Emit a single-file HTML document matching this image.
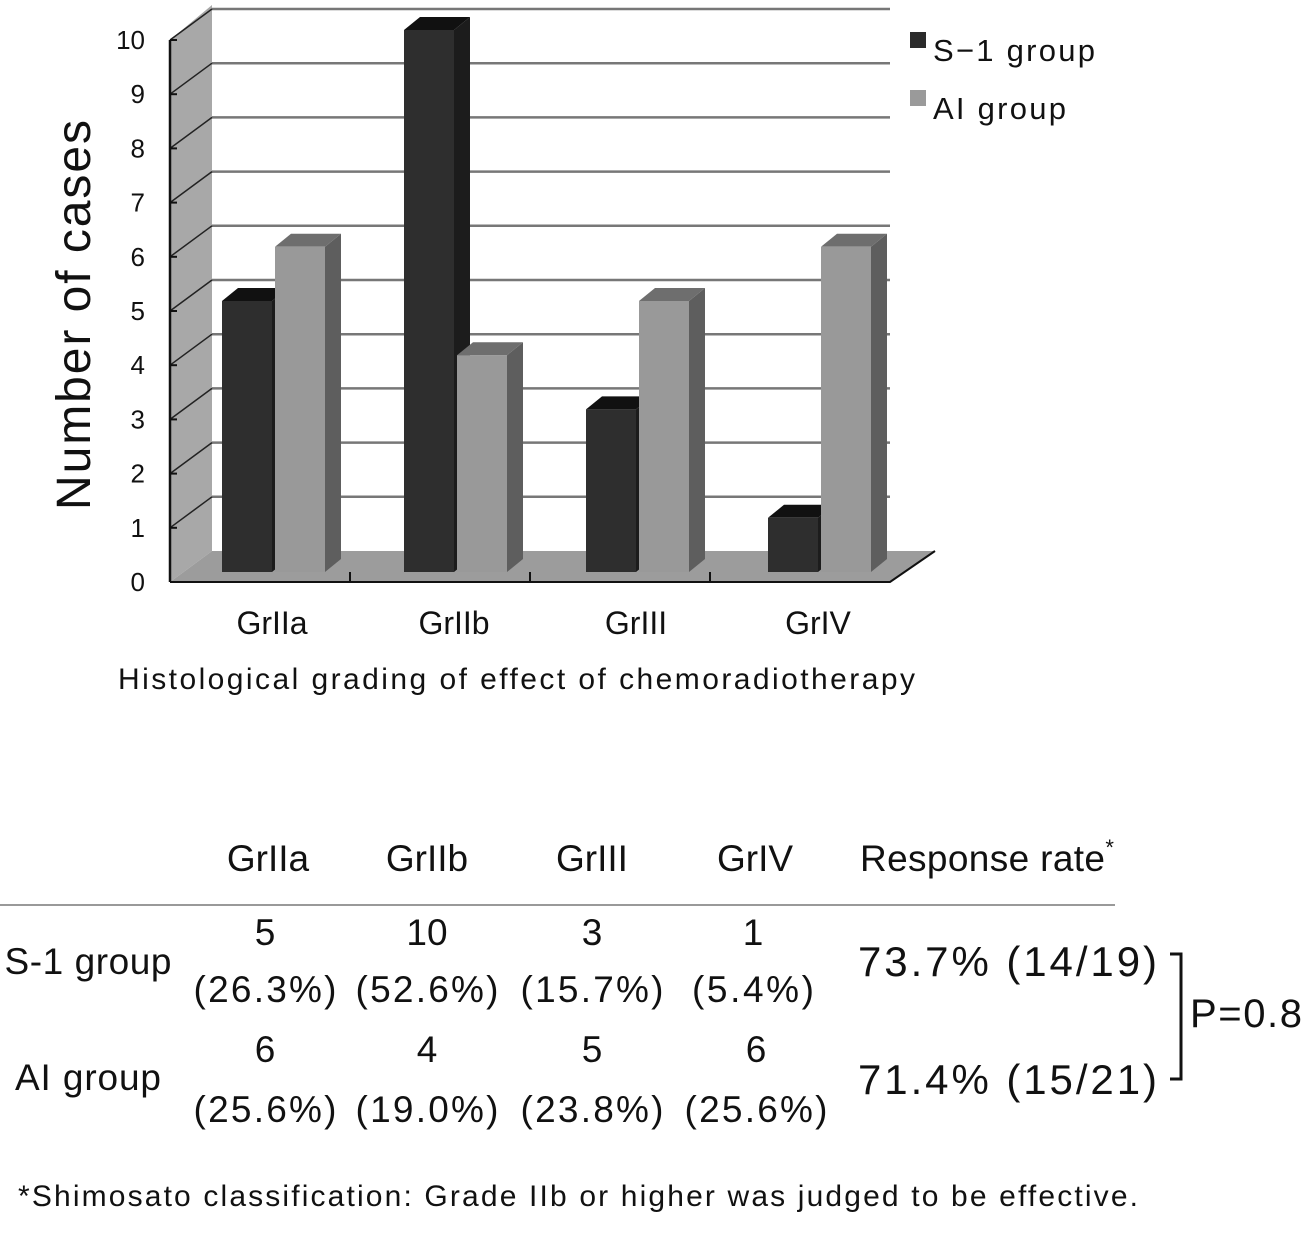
<!DOCTYPE html>
<html><head><meta charset="utf-8"><style>
html,body{margin:0;padding:0;background:#fff;}
svg{display:block;font-family:"Liberation Sans",sans-serif;}
</style></head><body>
<svg id="chart" width="1311" height="1240" viewBox="0 0 1311 1240" xmlns="http://www.w3.org/2000/svg">
<g id="plot"></g>
<text transform="translate(90,315) rotate(-90)" text-anchor="middle" font-size="48" fill="#111" textLength="390">Number of cases</text>
<text x="118" y="689" font-size="30" fill="#111" textLength="797">Histological grading of effect of chemoradiotherapy</text>
<g>
<rect x="910" y="32" width="16" height="16" fill="#2b2b2b"/>
<text x="933" y="61" font-size="31" fill="#111" textLength="162">S−1 group</text>
<rect x="910" y="90" width="16" height="16" fill="#9a9a9a"/>
<text x="933" y="119" font-size="31" fill="#111" textLength="133">AI group</text>
</g>
<g font-size="37" fill="#111" text-anchor="middle">
<text x="268" y="871">GrIIa</text>
<text x="427" y="871">GrIIb</text>
<text x="592" y="871">GrIII</text>
<text x="755" y="871">GrIV</text>
<text x="860" y="871" text-anchor="start"><tspan textLength="245">Response rate</tspan><tspan font-size="22" dy="-16">*</tspan></text>
<line x1="0" y1="905" x2="1115" y2="905" stroke="#999" stroke-width="2"/>
<text x="88" y="974" textLength="167">S-1 group</text>
<text x="88" y="1090" textLength="146">AI group</text>
<g>
<text x="265" y="945">5</text><text x="265" y="1002" textLength="143">(26.3%)</text>
<text x="427" y="945">10</text><text x="427" y="1002" textLength="143">(52.6%)</text>
<text x="592" y="945">3</text><text x="592" y="1002" textLength="143">(15.7%)</text>
<text x="753" y="945">1</text><text x="753" y="1002" textLength="122">(5.4%)</text>
</g>
<g>
<text x="265" y="1062">6</text><text x="265" y="1122" textLength="143">(25.6%)</text>
<text x="427" y="1062">4</text><text x="427" y="1122" textLength="143">(19.0%)</text>
<text x="592" y="1062">5</text><text x="592" y="1122" textLength="143">(23.8%)</text>
<text x="756" y="1062">6</text><text x="756" y="1122" textLength="143">(25.6%)</text>
</g>
<text x="858" y="976" font-size="42" text-anchor="start" textLength="299">73.7% (14/19)</text>
<text x="858" y="1094" font-size="42" text-anchor="start" textLength="299">71.4% (15/21)</text>
<path d="M1170 954 H1181 V1079 H1170" fill="none" stroke="#111" stroke-width="3"/>
<text x="1190" y="1027" font-size="40" text-anchor="start" textLength="112">P=0.8</text>
</g>
<text x="18" y="1206" font-size="30" fill="#111" textLength="1120">*Shimosato classification: Grade IIb or higher was judged to be effective.</text>
</svg>
<script>
const categories = ["GrIIa","GrIIb","GrIII","GrIV"];
const s1Values = [5,10,3,1];
const aiValues = [6,4,5,6];
const yTicks = [0,1,2,3,4,5,6,7,8,9,10];

const NS = "http://www.w3.org/2000/svg";
const g = document.getElementById("plot");
const x0 = 170, x1 = 890, dx = 42, dy = -31;
function yFront(v){ return 582 - 54.2*v; }
function yBar(v){ return 572 - 54.2*v; }
function catX(i){ return 222 + i*182; }
function mk(tag, attrs){ const e = document.createElementNS(NS, tag); for (const k in attrs) e.setAttribute(k, attrs[k]); g.appendChild(e); return e; }

let wall = mk("polygon", {points:`${x0},${yFront(0)} ${x0+dx},${yFront(0)+dy} ${x0+dx},${yFront(10)+dy-4} ${x0},${yFront(10)}`, fill:"#a8a8a8"});


let floor = mk("polygon", {points:`${x0},${yFront(0)} ${x1},${yFront(0)} ${x1+dx+3},${yFront(0)+dy} ${x0+dx},${yFront(0)+dy}`, fill:"#9c9c9c"});


yTicks.forEach(v => {
  if (v > 0) {
    const yb = yFront(v)+dy;
    let gl = mk("line", {x1:x0+dx, y1:yb, x2:x1, y2:yb, stroke:"#777", "stroke-width":2.5});
    
    
    let dl = mk("line", {x1:x0, y1:yFront(v), x2:x0+dx, y2:yb, stroke:"#222", "stroke-width":1.5});
    
    
  }
  let tk = mk("line", {x1:x0, y1:yFront(v), x2:x0+7, y2:yFront(v), stroke:"#111", "stroke-width":2});
  
  
  let t = mk("text", {x:145, y:yFront(v)+9, "font-size":26, "text-anchor":"end", fill:"#111"});
  t.textContent = v;
  
  
});
let ya = mk("line", {x1:x0, y1:yFront(0), x2:x0, y2:yFront(10), stroke:"#111", "stroke-width":2.5});


let xa = mk("polyline", {points:`${x0},${yFront(0)} ${x1},${yFront(0)} ${x1+dx+3},${yFront(0)+dy}`, fill:"none", stroke:"#111", "stroke-width":2});


for (let i=1;i<categories.length;i++){
  const xt = x0 + i*(x1-x0)/categories.length;
  let tk = mk("line", {x1:xt, y1:yFront(0)-10, x2:xt, y2:yFront(0), stroke:"#111", "stroke-width":2});
  
  
}
function bar(x, v, front, side, top, name){
  const w = 50, bd = 16, bt = -13;
  const yt = yBar(v), yb = yBar(0);
  let s = mk("polygon", {points:`${x+w},${yb} ${x+w+bd},${yb+bt} ${x+w+bd},${yt+bt} ${x+w},${yt}`, fill:side});
  
  
  let tp = mk("polygon", {points:`${x},${yt} ${x+bd},${yt+bt} ${x+w+bd},${yt+bt} ${x+w},${yt}`, fill:top});
  
  
  let f = mk("rect", {x:x, y:yt, width:w, height:yb-yt, fill:front});
  
  
}
categories.forEach((c,i) => {
  const x = catX(i);
  bar(x, s1Values[i], "#2e2e2e", "#1c1c1c", "#111", "bar-s1-"+c.toLowerCase());
  bar(x+53, aiValues[i], "#999999", "#5e5e5e", "#6e6e6e", "bar-ai-"+c.toLowerCase());
  let t = mk("text", {x:x+50, y:634, "font-size":32, "text-anchor":"middle", fill:"#111"});
  t.textContent = c;
  
  
});
</script>
</body></html>
